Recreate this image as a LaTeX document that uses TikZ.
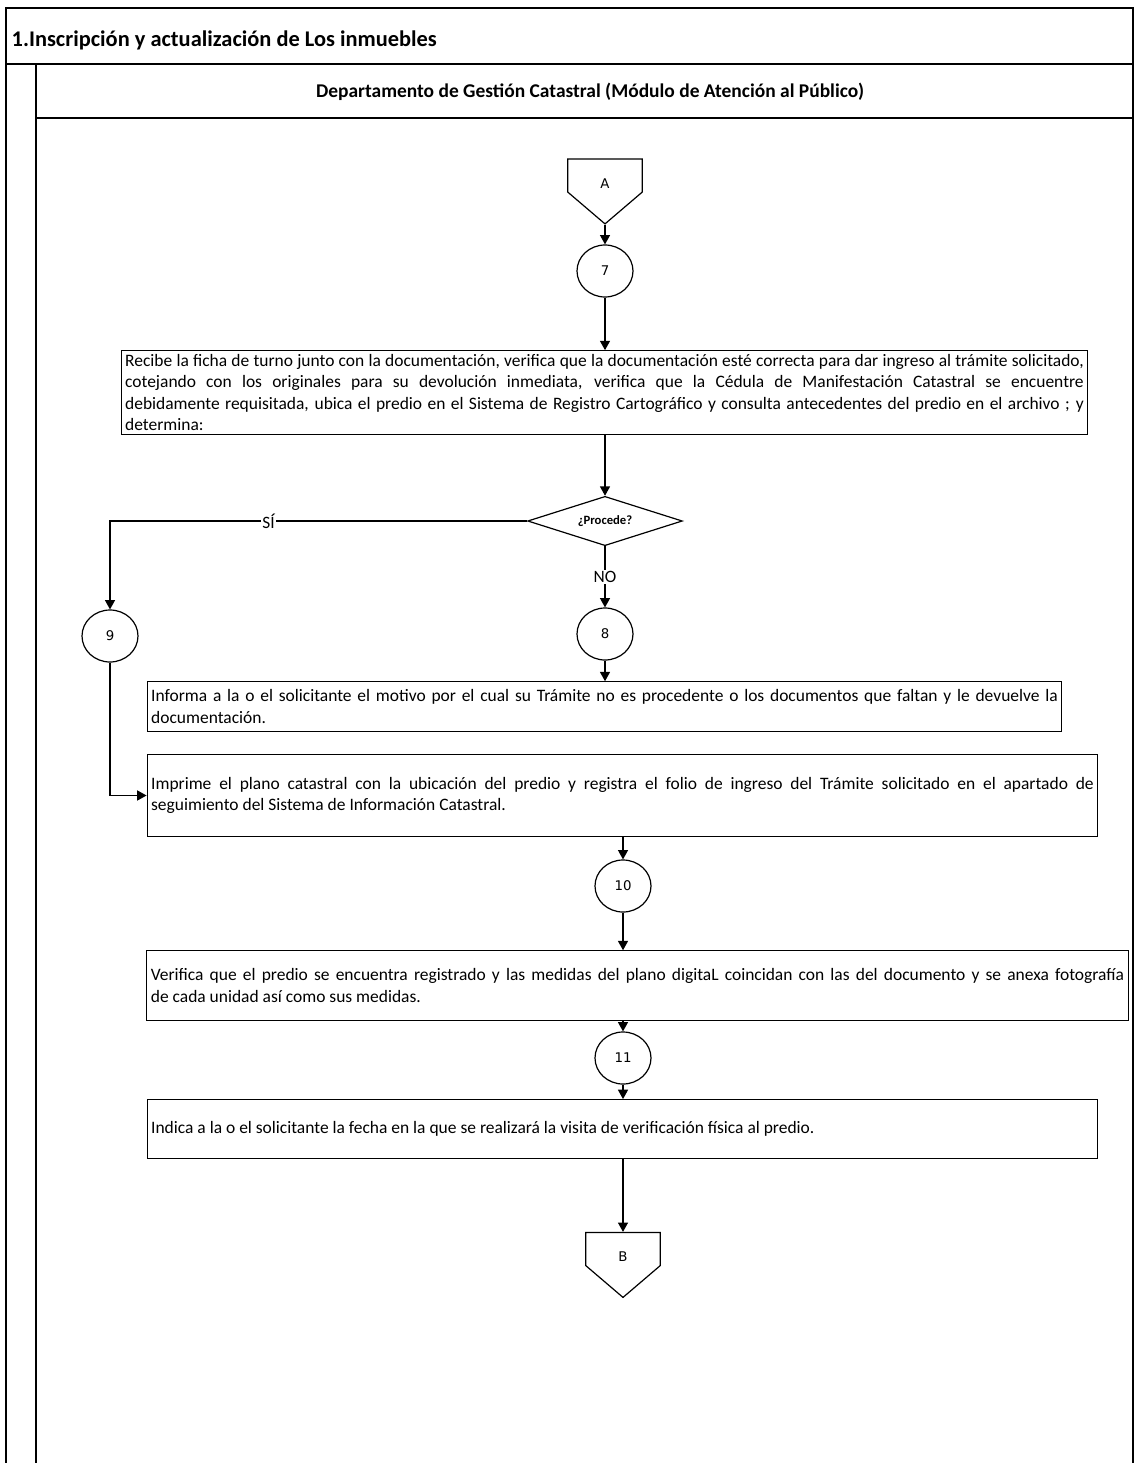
\documentclass[tikz,border=0pt]{standalone}
\usepackage{fontspec}
\setmainfont{Carlito}
\newfontfamily\numfont{DejaVu Sans}
\usepackage{tikz}
\usetikzlibrary{arrows.meta, shapes.geometric, shapes.symbols}

\begin{document}
\begin{tikzpicture}[
    x=0.75pt, y=-0.75pt,
    lane/.style={line width=1.4pt},
    box/.style={
        rectangle,
        draw,
        line width=0.9pt,
        align=justify,
        inner sep=3pt,
        font=\fontsize{13.1}{15.8}\selectfont
    },
    circ/.style={
        ellipse,
        draw,
        line width=0.9pt,
        minimum width=42pt,
        minimum height=39pt,
        inner sep=0pt,
        font=\numfont\fontsize{10}{11}\selectfont
    },
    decision/.style={
        diamond,
        draw,
        aspect=3.2,
        line width=0.9pt,
        minimum width=116pt,
        minimum height=37pt,
        inner sep=0pt,
        font=\bfseries\fontsize{9.5}{10}\selectfont
    },
    offpage/.style={
        signal,
        signal to=south,
        signal pointer angle=99,
        draw,
        line width=0.9pt,
        minimum width=56pt,
        minimum height=24.75pt,
        inner sep=0pt
    },
    offtext/.style={font=\numfont\fontsize{10}{11}\selectfont, yshift=-6pt},
    arrow/.style={-{Triangle[length=7pt,width=7.5pt]}, line width=0.9pt},
    tag/.style={fill=white, inner sep=1pt, font=\fontsize{13}{14}\selectfont}
]
\useasboundingbox (0,0) rectangle (1134,1463);

% swimlane frame
\draw[lane] (6,1463) -- (6,8) -- (1133,8) -- (1133,1463);
\draw[lane] (6,64) -- (1133,64);
\draw[lane] (36,64) -- (36,1463);
\draw[lane] (36,118) -- (1133,118);

\node[anchor=west, font=\bfseries\fontsize{16.8}{18}\selectfont] (proc) at (7,40)
    {1.Inscripción y actualización de Los inmuebles};
\node[font=\bfseries\fontsize{14.6}{16}\selectfont] (dept) at (590,92)
    {Departamento de Gestión Catastral (Módulo de Atención al Público)};

% flow
\node[offpage, label={[offtext]center:A}] (A) at (605,175.5) {};
\node[circ] (c7) at (605,271) {7};

\node[box, text width=719pt, minimum height=62pt] (recibe) at (604.5,392.5) {
    Recibe la ficha de turno junto con la documentación, verifica que la documentación esté correcta para dar ingreso al trámite solicitado,\linebreak
    cotejando con los originales para su devolución inmediata, verifica que la Cédula de Manifestación Catastral se encuentre\linebreak
    debidamente requisitada, ubica el predio en el Sistema de Registro Cartográfico y consulta antecedentes del predio en el archivo ; y\linebreak
    determina:
};

\node[decision] (procede) at (605,521) {¿Procede?};

\node[circ] (c9) at (110,636) {9};
\node[circ] (c8) at (605,634) {8};

\node[box, text width=680pt, minimum height=37pt] (informa) at (604.5,706.5) {
    Informa a la o el solicitante el motivo por el cual su Trámite no es procedente o los documentos que faltan y le devuelve la\linebreak
    documentación.
};

\node[box, text width=707pt, minimum height=61pt] (imprime) at (622.5,795.5) {
    Imprime el plano catastral con la ubicación del predio y registra el folio de ingreso del Trámite solicitado en el apartado de\linebreak
    seguimiento del Sistema de Información Catastral.
};

\node[circ] (c10) at (623,886) {10};

\node[box, text width=730pt, minimum height=52pt] (verifica) at (637.5,985.5) {
    Verifica que el predio se encuentra registrado y las medidas del plano digitaL coincidan con las del documento y se anexa fotografía\linebreak
    de cada unidad así como sus medidas.
};

\node[circ] (c11) at (623,1058) {11};

\node[box, text width=707pt, minimum height=44pt] (indica) at (622.5,1129) {
    Indica a la o el solicitante la fecha en la que se realizará la visita de verificación física al predio.\hfill\null
};

\node[offpage, label={[offtext]center:B}] (B) at (623,1249) {};

\draw[arrow] (A.south) -- (c7);
\draw[arrow] (c7) -- (c7 |- recibe.north);
\draw[arrow] (recibe.south -| procede) -- (procede);
\draw[arrow] (procede.west) -| node[tag, pos=0.31] {SÍ} (c9);
\draw[arrow] (procede) -- node[tag] {NO} (c8);
\draw[arrow] (c8) -- (c8 |- informa.north);
\draw[arrow] (c9) |- (imprime.west);
\draw[arrow] (imprime.south -| c10) -- (c10);
\draw[arrow] (c10) -- (c10 |- verifica.north);
\draw[arrow] (verifica.south -| c11) -- (c11);
\draw[arrow] (c11) -- (c11 |- indica.north);
\draw[arrow] (indica.south -| B) -- (B);

\end{tikzpicture}
\end{document}
